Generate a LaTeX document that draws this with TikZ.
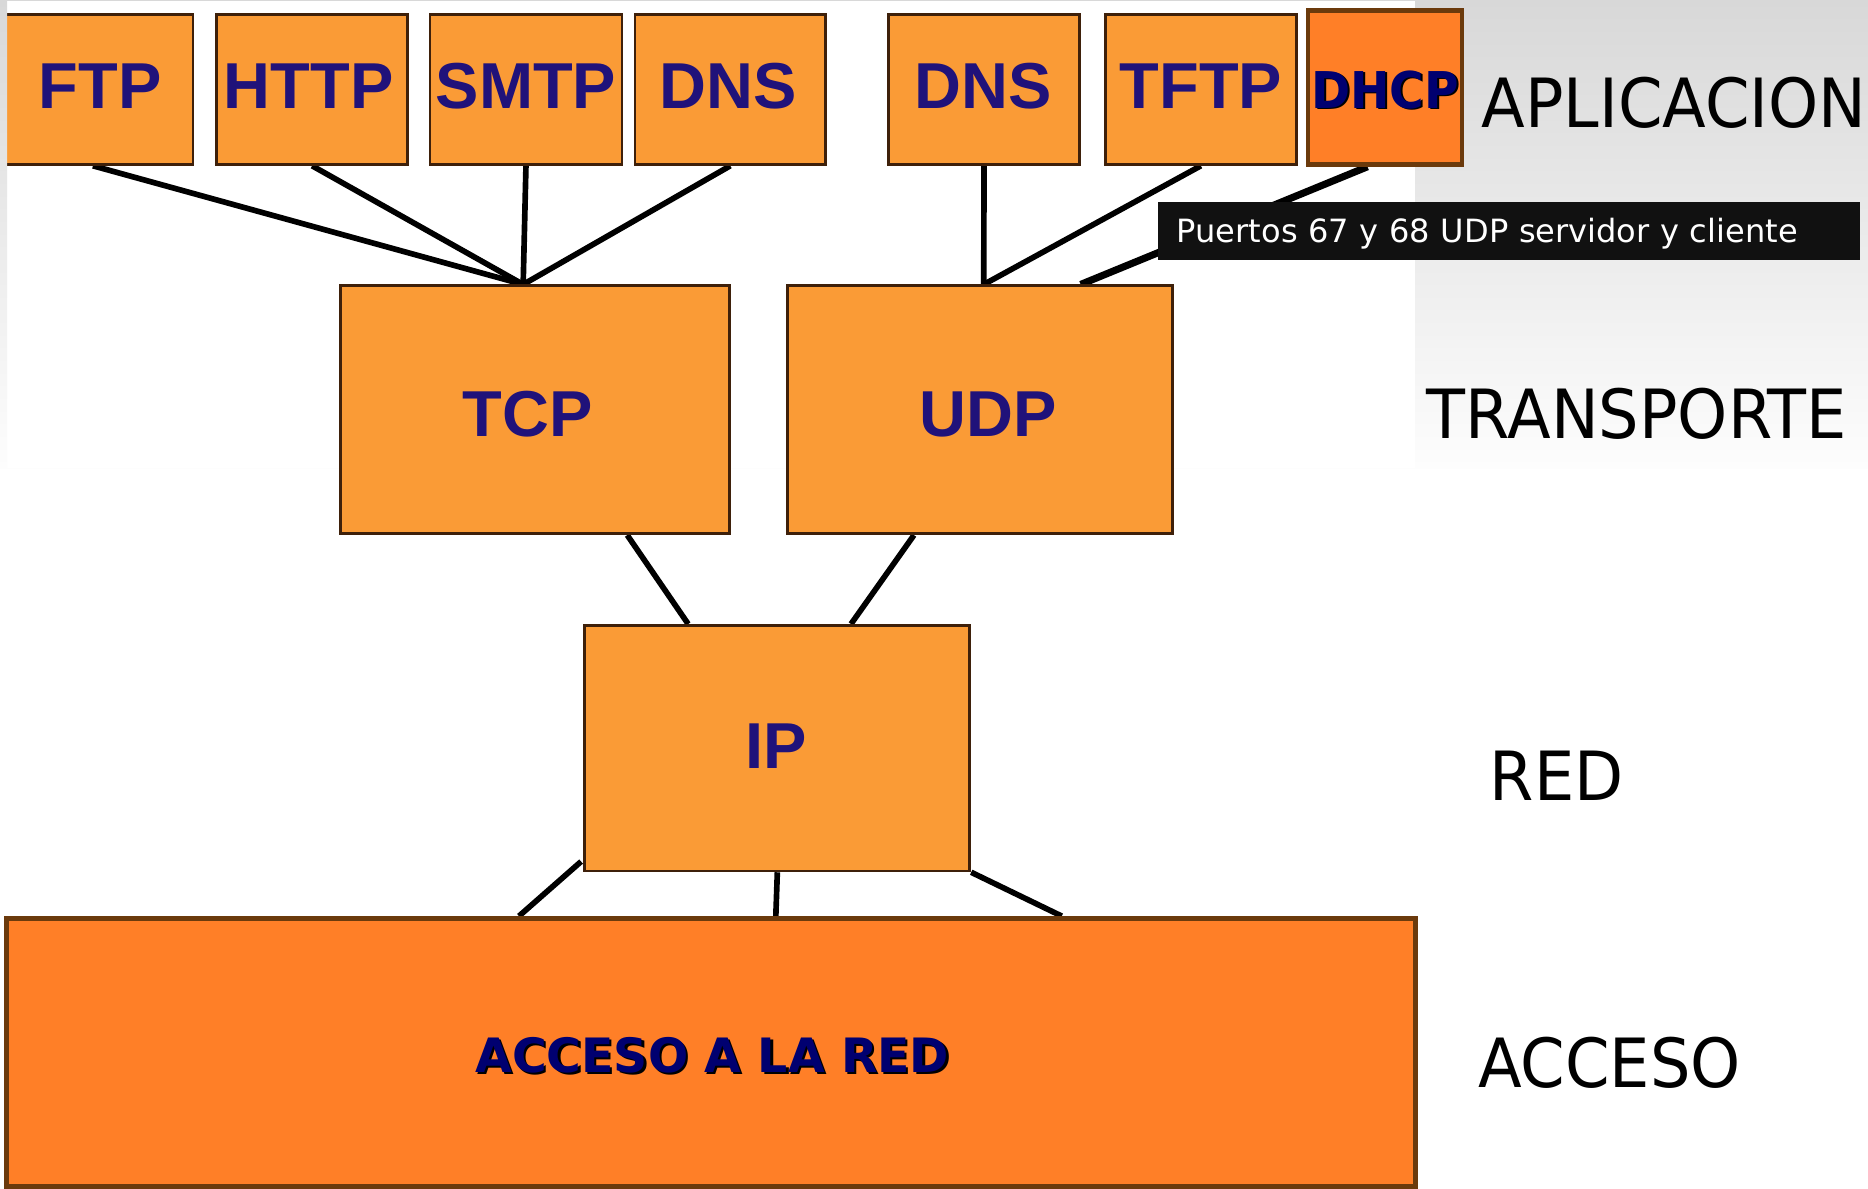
\documentclass[tikz,border=0pt]{standalone}
\usepackage{fontspec}
\setmainfont{Liberation Sans}
\newfontfamily\labelfont[FakeStretch=0.94]{DejaVu Sans}
\newfontfamily\tagfont{DejaVu Sans}
\newfontfamily\headfont{DejaVu Sans}
\newfontfamily\headnarrow[FakeStretch=0.93]{DejaVu Sans}
\usetikzlibrary{calc}

\pgfdeclarelayer{slide}
\pgfdeclarelayer{wires}
\pgfsetlayers{slide,wires,main}

\definecolor{boxfill}{RGB}{250,155,54}
\definecolor{boxedge}{RGB}{62,32,10}
\definecolor{hotfill}{RGB}{255,127,39}
\definecolor{hotedge}{RGB}{107,58,12}
\definecolor{ink}{RGB}{32,18,122}
\definecolor{navy}{RGB}{0,0,112}
\definecolor{slidegray}{RGB}{216,216,216}
\definecolor{slidelight}{RGB}{253,253,253}
\definecolor{tagbg}{RGB}{17,17,17}

\tikzset{
  proto/.style={rectangle, fill=boxfill, draw=boxedge, line width=0.65pt, inner sep=0pt},
  protext/.style={inner sep=0pt, text=ink, font=\fontsize{15.5}{18}\selectfont\bfseries},
  hot/.style={rectangle, fill=hotfill, draw=hotedge, line width=1.1pt, inner sep=0pt},
  wire/.style={line width=1.35pt, black},
  tier/.style={anchor=base west, inner sep=0pt, text=black,
    font=\labelfont\fontsize{16.2}{19}\selectfont},
}

\begin{document}
\begin{tikzpicture}[x=0.01cm, y=-0.01cm]
\useasboundingbox (0,0) rectangle (1568,998);

% slide background: grey fade at the top, white area behind the diagram
\begin{pgfonlayer}{slide}
  \fill[white] (0,0) rectangle (1568,998);
  \shade[top color=slidegray, bottom color=slidelight] (0,0) rectangle (1568,393);
  \fill[white] (6,1) rectangle (1188,393);
\end{pgfonlayer}

% application protocols
\node[proto, minimum width=1.60cm, minimum height=1.26cm] (ftp)  at (82,75)    {};
\node[proto, minimum width=1.60cm, minimum height=1.26cm] (http) at (262,75)   {};
\node[proto, minimum width=1.61cm, minimum height=1.26cm] (smtp) at (441.5,75) {};
\node[proto, minimum width=1.60cm, minimum height=1.26cm] (dnsa) at (613,75)   {};
\node[proto, minimum width=1.60cm, minimum height=1.26cm] (dnsb) at (826,75)   {};
\node[proto, minimum width=1.60cm, minimum height=1.26cm] (tftp) at (1008,75)  {};
\node[protext] (ftpt)  at ($(ftp.center)+(2,-3)$)  {FTP};
\node[protext] (httpt) at ($(http.center)+(-3,-3)$) {HTTP};
\node[protext] (smtpt) at ($(smtp.center)+(0,-3)$) {SMTP};
\node[protext] (dnsat) at ($(dnsa.center)+(-2,-3)$) {DNS};
\node[protext] (dnsbt) at ($(dnsb.center)+(-1,-3)$) {DNS};
\node[protext] (tftpt) at ($(tftp.center)+(0,-3)$) {TFTP};

\node[hot, minimum width=1.29cm, minimum height=1.29cm] (dhcp) at (1162.5,73.5) {};
\node[text=black, font=\headnarrow\fontsize{12.1}{14}\selectfont\bfseries, inner sep=0pt]
  (dhcpshadow) at ($(dhcp.center)+(1.8,3.2)$) {DHCP};
\node[text=navy, font=\headnarrow\fontsize{12.1}{14}\selectfont\bfseries, inner sep=0pt]
  (dhcptext) at ($(dhcp.center)+(0,2)$) {DHCP};

% left edge of the slide fade
\shade[top color=slidegray, bottom color=slidelight] (0,0) rectangle (6,393);

% transport, network and access layers
\node[proto, minimum width=3.26cm, minimum height=2.08cm] (tcp) at (449,344)   {};
\node[proto, minimum width=3.23cm, minimum height=2.08cm] (udp) at (822.5,344) {};
\node[proto, minimum width=3.23cm, minimum height=2.06cm] (ip)  at (652.5,628) {};
\node[protext] (tcpt) at ($(tcp.center)+(-6,4)$) {TCP};
\node[protext] (udpt) at ($(udp.center)+(7,4)$)  {UDP};
\node[protext] (ipt)  at ($(ip.center)+(-1,-2)$) {IP};

\node[hot, minimum width=11.82cm, minimum height=2.25cm] (acc) at (597,883.5) {};
\node[text=black, font=\headfont\fontsize{11.3}{14}\selectfont\bfseries, inner sep=0pt]
  (accshadow) at ($(acc.center)+(2.8,4)$) {ACCESO A LA RED};
\node[text=navy, font=\headfont\fontsize{11.3}{14}\selectfont\bfseries, inner sep=0pt]
  (acctext) at ($(acc.center)+(1,2.5)$) {ACCESO A LA RED};

% connectors
\begin{pgfonlayer}{wires}
  \coordinate (tcpin)  at ($(tcp.north west)!0.47!(tcp.north east)$);
  \coordinate (udpin)  at ($(udp.north west)!0.51!(udp.north east)$);
  \coordinate (udptag) at ($(udp.north west)!0.76!(udp.north east)$);
  \coordinate (dhcpout) at ($(dhcp.south west)!0.39!(dhcp.south east)$);
  \coordinate (tcpout) at ($(tcp.south west)!0.736!(tcp.south east)$);
  \coordinate (udpout) at ($(udp.south west)!0.33!(udp.south east)$);
  \coordinate (ipinl)  at ($(ip.north west)!0.27!(ip.north east)$);
  \coordinate (ipinr)  at ($(ip.north west)!0.69!(ip.north east)$);
  \coordinate (accl)   at ($(acc.north west)!0.364!(acc.north east)$);
  \coordinate (accm)   at ($(acc.north west)!0.5457!(acc.north east)$);
  \coordinate (accr)   at ($(acc.north west)!0.748!(acc.north east)$);

  \draw[wire] ($(ftp.south)+(-4,0)$) -- (tcpin);
  \draw[wire] (http.south) -- (tcpin);
  \draw[wire] (smtp.south) -- (tcpin);
  \draw[wire] (dnsa.south) -- (tcpin);
  \draw[wire] (dnsb.south) -- (udpin);
  \draw[wire] (tftp.south) -- (udpin);
  \draw[wire] (tcpout) -- (ipinl);
  \draw[wire] (udpout) -- (ipinr);
  \draw[wire] ($(ip.south west)+(-2,-9)$) -- (accl);
  \draw[wire] (ip.south) -- (accm);
  \draw[wire] (ip.south east) -- (accr);
  \draw[line width=1.7pt, black] (dhcpout) -- (udptag);
\end{pgfonlayer}

% note on the DHCP ports
\node[fill=tagbg, text=white, minimum width=5.89cm, minimum height=0.48cm,
      text width=5.57cm, align=left, inner xsep=0.16cm, inner ysep=0pt,
      text height=5.6pt, text depth=0pt,
      font=\tagfont\fontsize{7.65}{9}\selectfont] (tag) at (1266.5,194)
  {Puertos 67 y 68 UDP servidor y cliente};

% layer names
\node[tier] (aplic)  at (1243,107) {APLICACION};
\node[tier] (transp) at (1197,368) {TRANSPORTE};
\node[tier] (red)    at (1250,672) {RED};
\node[tier] (acceso) at (1240,913) {ACCESO};
\end{tikzpicture}
\end{document}
